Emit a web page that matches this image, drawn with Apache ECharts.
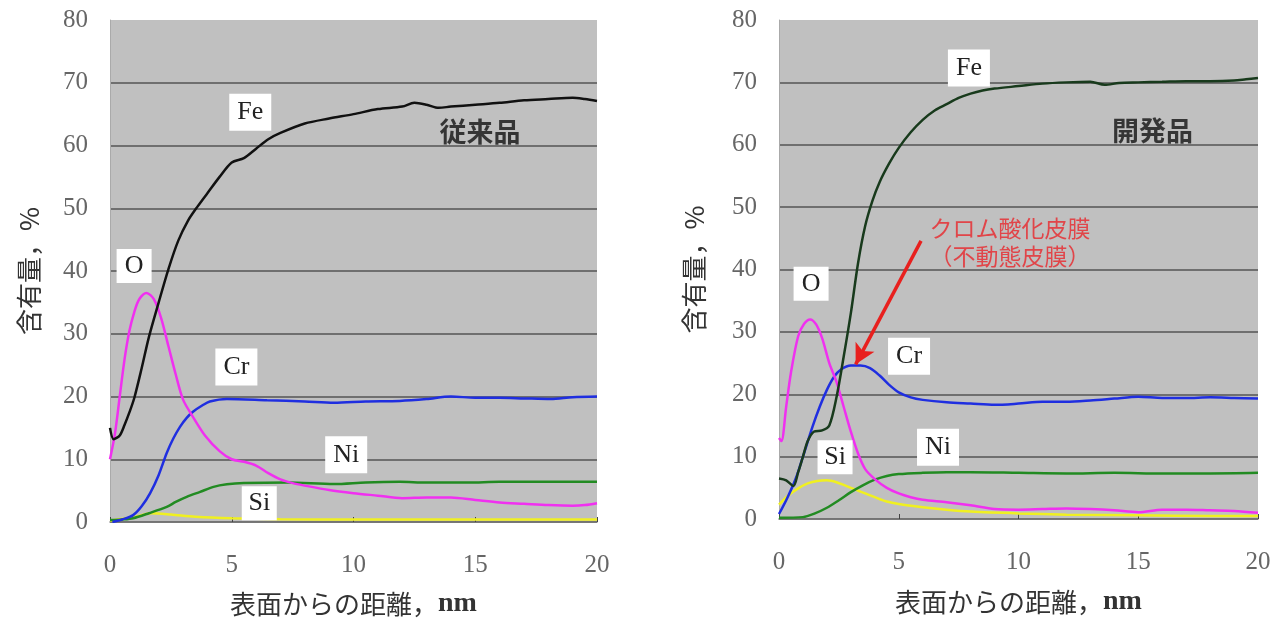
<!DOCTYPE html>
<html>
<head>
<meta charset="utf-8">
<script src="https://cdn.jsdelivr.net/npm/echarts@6/dist/echarts.min.js"></script>
<style>
  html, body { margin: 0; padding: 0; background: #fff; }
  #main { width: 1282px; height: 624px; }
</style>
</head>
<body>
<div id="main"></div>
<script>
// 従来品 (conventional), [depth nm, content %]
const convFe = [[0, 15], [0.15, 13.2], [0.4, 13.8], [0.6, 15.5], [0.8, 17.5], [1.0, 19.8], [1.3, 24.5], [1.6, 29.5], [2.0, 35], [2.4, 40.3], [2.8, 44.8], [3.2, 48], [3.6, 50.3], [4.0, 52.4], [4.5, 55], [5.0, 57.3], [5.5, 58], [6.0, 59.5], [6.5, 61], [7.0, 62], [8.0, 63.5], [9.0, 64.3], [10, 65], [11, 65.8], [12, 66.2], [12.5, 66.8], [13, 66.5], [13.5, 66], [14, 66.2], [15, 66.5], [16, 66.8], [17, 67.2], [18, 67.4], [19, 67.6], [19.5, 67.4], [20, 67.1]]
const convO = [[0, 10], [0.2, 14], [0.4, 20], [0.6, 26], [0.8, 30.5], [1.0, 33.5], [1.2, 35.5], [1.5, 36.5], [1.8, 35.5], [2.1, 32.5], [2.4, 28], [2.7, 23.5], [3.0, 19.5], [3.4, 16.8], [3.9, 13.8], [4.5, 11.3], [5.0, 10], [5.5, 9.6], [6.0, 9], [6.5, 7.8], [7.0, 6.8], [7.5, 6.2], [8, 5.8], [9, 5.1], [10, 4.6], [11, 4.2], [12, 3.8], [13, 3.9], [14, 3.9], [15, 3.5], [16, 3.1], [17, 2.9], [18, 2.7], [19, 2.6], [19.5, 2.7], [20, 3.0]]
const convCr = [[0.1, 0], [0.5, 0.4], [0.95, 1.1], [1.3, 2.5], [1.65, 4.6], [2.0, 7.5], [2.33, 11], [2.6, 13.3], [2.88, 15.2], [3.15, 16.6], [3.42, 17.6], [3.8, 18.6], [4.1, 19.2], [4.8, 19.6], [6.45, 19.4], [8, 19.2], [9.2, 19.0], [10.5, 19.2], [11.9, 19.3], [13, 19.6], [14, 20], [15, 19.8], [16, 19.8], [17, 19.7], [18.1, 19.6], [19, 19.9], [20, 20]]
const convNi = [[0, 0.3], [0.5, 0.4], [0.95, 0.6], [1.6, 1.4], [2.33, 2.4], [2.7, 3.2], [3.15, 4.0], [3.7, 4.8], [4.25, 5.6], [4.8, 6.0], [5.5, 6.2], [7.3, 6.3], [9.2, 6.05], [10.5, 6.3], [11.9, 6.4], [13, 6.3], [14.7, 6.3], [16, 6.4], [17.4, 6.4], [20, 6.4]]
const convSi = [[0, 0.2], [1.0, 0.8], [1.7, 1.4], [2.5, 1.2], [3.5, 0.85], [5, 0.6], [7, 0.45], [10, 0.4], [15, 0.4], [20, 0.4]]

// 開発品 (developed)
const devFe = [[0, 6.5], [0.3, 6.2], [0.6, 5.3], [0.8, 7.5], [1.0, 10], [1.2, 12.5], [1.45, 14], [1.8, 14.2], [2.1, 15], [2.4, 19.5], [2.7, 26], [3.0, 33], [3.3, 41], [3.6, 47], [3.9, 51], [4.2, 54], [4.6, 57], [5.0, 59.5], [5.5, 62], [6.0, 64], [6.5, 65.5], [7, 66.5], [7.5, 67.5], [8, 68.2], [8.5, 68.7], [9, 69], [10, 69.4], [11, 69.8], [12, 70], [13, 70.1], [13.6, 69.6], [14.2, 69.9], [15, 70], [16, 70.1], [17, 70.2], [18, 70.2], [19, 70.3], [19.5, 70.5], [20, 70.7]]
const devO = [[0, 13], [0.1, 12.5], [0.3, 18], [0.5, 23.5], [0.8, 29.3], [1.05, 31.3], [1.3, 32], [1.55, 31.2], [1.8, 29], [2.1, 25], [2.4, 22], [2.7, 18], [3.0, 14], [3.3, 10.5], [3.6, 8], [4.0, 6.4], [4.5, 5], [5, 4.1], [5.5, 3.5], [6, 3.1], [7, 2.7], [8, 2.2], [9, 1.6], [10, 1.5], [11, 1.6], [12, 1.7], [13, 1.6], [14, 1.4], [15, 1.1], [16, 1.5], [17, 1.5], [18, 1.4], [19, 1.3], [20, 1.0]]
const devCr = [[0, 0.8], [0.3, 3], [0.7, 6.5], [1.0, 10], [1.4, 14.8], [1.7, 18], [2.0, 20.7], [2.3, 22.8], [2.6, 24], [3.0, 24.6], [3.4, 24.6], [3.8, 24.2], [4.2, 23], [4.6, 21.5], [5.0, 20.3], [5.5, 19.5], [6, 19.1], [7, 18.7], [8, 18.5], [9, 18.3], [10, 18.5], [11, 18.8], [12, 18.8], [13, 19], [14, 19.3], [15, 19.6], [16, 19.4], [17, 19.4], [18, 19.5], [19, 19.4], [20, 19.3]]
const devNi = [[0, 0.2], [1, 0.3], [1.5, 0.9], [2, 1.8], [2.5, 3], [3, 4.3], [3.5, 5.4], [4, 6.3], [4.5, 6.9], [5, 7.2], [6, 7.4], [7, 7.5], [8, 7.5], [10, 7.4], [12, 7.3], [14, 7.4], [16, 7.3], [18, 7.3], [20, 7.4]]
const devSi = [[0, 2.3], [0.4, 3.8], [0.8, 4.9], [1.2, 5.7], [1.6, 6.1], [2.0, 6.2], [2.4, 5.9], [2.8, 5.3], [3.2, 4.7], [3.6, 4.1], [4.0, 3.5], [4.5, 2.8], [5, 2.4], [6, 1.9], [7, 1.5], [8, 1.2], [10, 0.9], [12, 0.7], [15, 0.6], [18, 0.5], [20, 0.5]]

// element tags placed in data coordinates
const convTags = [['Fe', 5.76, 65.3], ['O', 0.99, 40.8], ['Cr', 5.19, 24.7], ['Ni', 9.7, 10.7], ['Si', 6.13, 3.0]]
const devTags = [['Fe', 7.93, 72.3], ['O', 1.34, 37.7], ['Cr', 5.43, 26.1], ['Si', 2.34, 9.9], ['Ni', 6.64, 11.5]]
const sampleNames = ['従来品', '開発品']
const samplePos = [[15.2, 62.2], [15.6, 62.3]]
const noteText = 'クロム酸化皮膜\n（不動態皮膜）'
const notePos = [9.65, 44.4]
const arrowFrom = [5.93, 44.6]
const arrowTo = [3.2, 24.8]

const xName = '表面からの距離，{b|nm}'
const yName = '含有量，%'

const chart = echarts.init(document.getElementById('main'))

const serif = 'Liberation Serif'
const cjk = 'Noto Sans CJK JP'

function xAxisOf(i, gap) {
  return {
    type: 'value', gridIndex: i, min: 0, max: 20, interval: 5,
    name: xName, nameLocation: 'middle', nameGap: gap,
    nameTextStyle: { fontFamily: cjk, fontSize: 26, color: '#333', rich: { b: { fontFamily: serif, fontSize: 28, fontWeight: 'bold', color: '#333' } } },
    axisLine: { lineStyle: { color: '#777', width: 1.5 } },
    axisTick: { inside: true, length: 5, lineStyle: { color: '#444' } },
    axisLabel: { margin: 31, fontFamily: serif, fontSize: 25, color: '#666' },
    splitLine: { show: false }
  }
}
function yAxisOf(i, gap) {
  return {
    type: 'value', gridIndex: i, min: 0, max: 80, interval: 10,
    name: yName, nameLocation: 'middle', nameGap: gap, nameRotate: 90,
    nameTextStyle: { fontFamily: cjk, fontSize: 26, color: '#333' },
    axisLine: { show: true, lineStyle: { color: '#aaa' } },
    axisTick: { show: false },
    axisLabel: { margin: 22, fontFamily: serif, fontSize: 25, color: '#666' },
    splitLine: { show: true, showMaxLine: false, lineStyle: { color: '#555', width: 1.5 } }
  }
}
function line(name, i, data, color, width) {
  return {
    name: name, type: 'line', xAxisIndex: i, yAxisIndex: i, data: data,
    showSymbol: false, smooth: 0.3,
    lineStyle: { color: color, width: width || 2.5 },
    z: 3, silent: true
  }
}
function tags(i, list) {
  return {
    type: 'scatter', xAxisIndex: i, yAxisIndex: i, z: 10, silent: true,
    symbol: 'rect',
    itemStyle: { color: '#fff', opacity: 1 },
    label: { show: true, position: 'inside', formatter: p => p.data.name, fontFamily: serif, fontSize: 26, color: '#222' },
    data: list.map(t => ({ name: t[0], value: [t[1], t[2]], symbolSize: t[0] === 'O' || t[0] === 'Si' ? [35, 34] : [42, 37] }))
  }
}

const option = {
  animation: false,
  grid: [
    { left: 110, top: 20, width: 487, height: 502, show: true, backgroundColor: '#c0c0c0', borderWidth: 0 },
    { left: 779, top: 20, width: 479, height: 499, show: true, backgroundColor: '#c0c0c0', borderWidth: 0 }
  ],
  xAxis: [xAxisOf(0, 68), xAxisOf(1, 69)],
  yAxis: [yAxisOf(0, 68), yAxisOf(1, 72)],
  series: [
    line('Si', 0, convSi, '#f0f020'),
    line('Ni', 0, convNi, '#228b22'),
    line('Cr', 0, convCr, '#1f2ee0'),
    line('O', 0, convO, '#f030f0'),
    line('Fe', 0, convFe, '#111'),
    line('Si', 1, devSi, '#f0f020'),
    line('Ni', 1, devNi, '#228b22'),
    line('Cr', 1, devCr, '#1f2ee0'),
    line('O', 1, devO, '#f030f0'),
    line('Fe', 1, devFe, '#183a1c'),
    tags(0, convTags),
    tags(1, devTags),
    {
      type: 'scatter', xAxisIndex: 0, yAxisIndex: 0, symbolSize: 0, z: 10, silent: true,
      label: { show: true, position: 'inside', formatter: sampleNames[0], fontFamily: cjk, fontSize: 27, fontWeight: 'bold', color: '#111' },
      data: [samplePos[0]]
    },
    {
      type: 'scatter', xAxisIndex: 1, yAxisIndex: 1, symbolSize: 0, z: 10, silent: true,
      label: { show: true, position: 'inside', formatter: sampleNames[1], fontFamily: cjk, fontSize: 27, fontWeight: 'bold', color: '#111' },
      data: [samplePos[1]]
    },
    {
      type: 'scatter', xAxisIndex: 1, yAxisIndex: 1, symbolSize: 0, z: 10, silent: true,
      label: { show: true, position: 'inside', formatter: noteText, fontFamily: cjk, fontSize: 23, lineHeight: 28, color: '#e8262a' },
      data: [notePos],
      markLine: {
        silent: true, symbol: ['none', 'arrow'], symbolSize: [16, 20],
        lineStyle: { color: '#e8201e', width: 3.5, type: 'solid' },
        label: { show: false },
        data: [[{ coord: arrowFrom }, { coord: arrowTo }]]
      }
    }
  ]
}
chart.setOption(option)
</script>
</body>
</html>
